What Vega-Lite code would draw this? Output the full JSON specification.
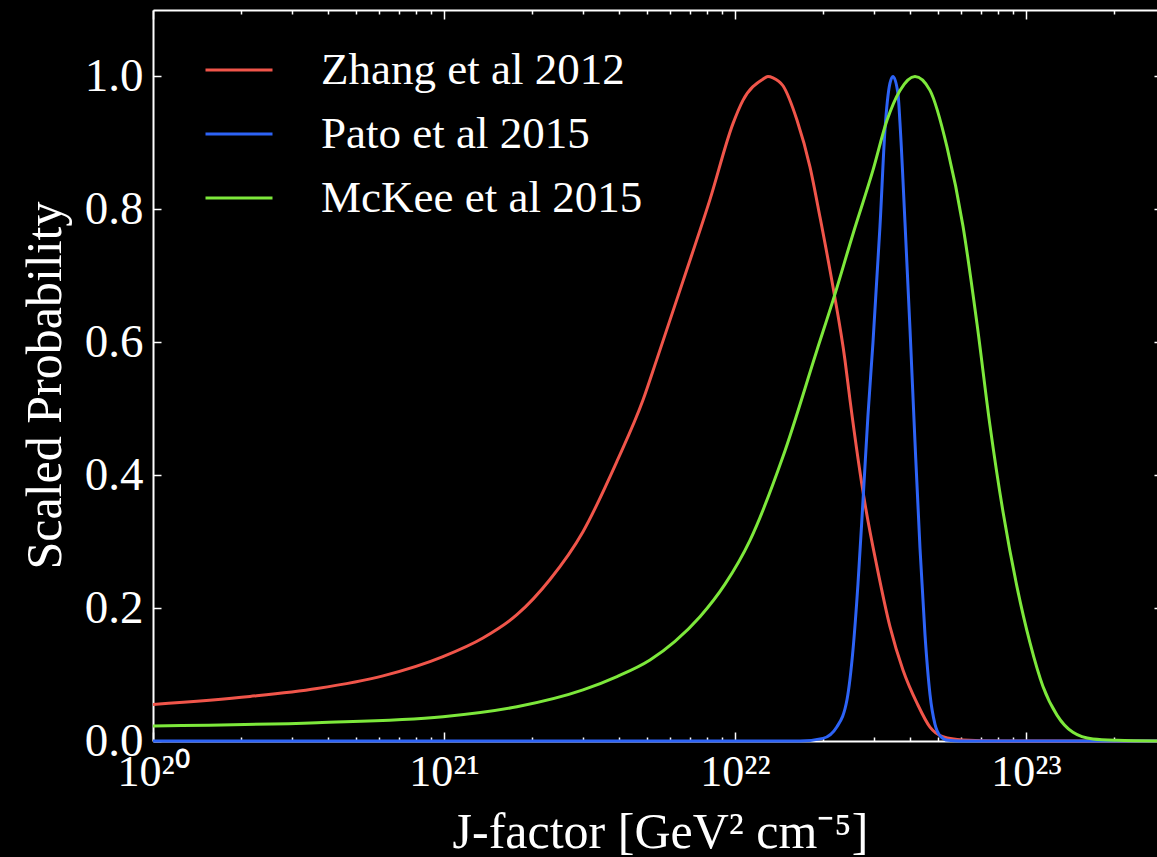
{
  "$schema": "https://vega.github.io/schema/vega-lite/v6.json",
  "width": 1004,
  "height": 731,
  "autosize": {"type": "none"},
  "padding": {"left": 153, "top": 10, "right": 0, "bottom": 116},
  "background": "black",
  "config": {
    "view": {"stroke": null},
    "font": "Liberation Serif",
    "axis": {
      "grid": false,
      "domainColor": "white",
      "domainWidth": 2,
      "tickColor": "white",
      "tickWidth": 1.5,
      "labelColor": "white",
      "titleColor": "white",
      "labelFont": "Liberation Serif",
      "titleFont": "Liberation Serif",
      "titleFontWeight": "normal",
      "labelOverlap": false,
      "labelFlush": false,
      "labelBound": false
    }
  },
  "data": {
    "values": [
      {"s": "Zhang et al 2012", "J": 1.000e20, "p": 0.055},
      {"s": "Zhang et al 2012", "J": 2.154e20, "p": 0.067},
      {"s": "Zhang et al 2012", "J": 3.661e20, "p": 0.079},
      {"s": "Zhang et al 2012", "J": 6.171e20, "p": 0.098},
      {"s": "Zhang et al 2012", "J": 9.922e20, "p": 0.127},
      {"s": "Zhang et al 2012", "J": 1.361e21, "p": 0.155},
      {"s": "Zhang et al 2012", "J": 1.781e21, "p": 0.190},
      {"s": "Zhang et al 2012", "J": 2.313e21, "p": 0.243},
      {"s": "Zhang et al 2012", "J": 3.004e21, "p": 0.315},
      {"s": "Zhang et al 2012", "J": 3.931e21, "p": 0.421},
      {"s": "Zhang et al 2012", "J": 4.829e21, "p": 0.513},
      {"s": "Zhang et al 2012", "J": 5.395e21, "p": 0.575},
      {"s": "Zhang et al 2012", "J": 6.627e21, "p": 0.692},
      {"s": "Zhang et al 2012", "J": 8.207e21, "p": 0.815},
      {"s": "Zhang et al 2012", "J": 9.842e21, "p": 0.929},
      {"s": "Zhang et al 2012", "J": 1.065e22, "p": 0.964},
      {"s": "Zhang et al 2012", "J": 1.248e22, "p": 0.996},
      {"s": "Zhang et al 2012", "J": 1.298e22, "p": 1.0},
      {"s": "Zhang et al 2012", "J": 1.351e22, "p": 0.998},
      {"s": "Zhang et al 2012", "J": 1.462e22, "p": 0.986},
      {"s": "Zhang et al 2012", "J": 1.634e22, "p": 0.934},
      {"s": "Zhang et al 2012", "J": 1.810e22, "p": 0.864},
      {"s": "Zhang et al 2012", "J": 1.960e22, "p": 0.788},
      {"s": "Zhang et al 2012", "J": 2.172e22, "p": 0.683},
      {"s": "Zhang et al 2012", "J": 2.388e22, "p": 0.573},
      {"s": "Zhang et al 2012", "J": 2.485e22, "p": 0.513},
      {"s": "Zhang et al 2012", "J": 2.797e22, "p": 0.357},
      {"s": "Zhang et al 2012", "J": 3.076e22, "p": 0.262},
      {"s": "Zhang et al 2012", "J": 3.409e22, "p": 0.172},
      {"s": "Zhang et al 2012", "J": 3.778e22, "p": 0.107},
      {"s": "Zhang et al 2012", "J": 4.222e22, "p": 0.057},
      {"s": "Zhang et al 2012", "J": 4.679e22, "p": 0.021},
      {"s": "Zhang et al 2012", "J": 5.184e22, "p": 0.0065},
      {"s": "Zhang et al 2012", "J": 6.074e22, "p": 0.0015},
      {"s": "Zhang et al 2012", "J": 8.143e22, "p": 0},
      {"s": "Zhang et al 2012", "J": 2.82e23, "p": 0},

      {"s": "Pato et al 2015", "J": 1.000e20, "p": 0},
      {"s": "Pato et al 2015", "J": 1.673e22, "p": 0},
      {"s": "Pato et al 2015", "J": 2.006e22, "p": 0.004},
      {"s": "Pato et al 2015", "J": 2.241e22, "p": 0.0215},
      {"s": "Pato et al 2015", "J": 2.426e22, "p": 0.062},
      {"s": "Pato et al 2015", "J": 2.544e22, "p": 0.137},
      {"s": "Pato et al 2015", "J": 2.647e22, "p": 0.237},
      {"s": "Pato et al 2015", "J": 2.754e22, "p": 0.362},
      {"s": "Pato et al 2015", "J": 2.864e22, "p": 0.49},
      {"s": "Pato et al 2015", "J": 2.980e22, "p": 0.60},
      {"s": "Pato et al 2015", "J": 3.076e22, "p": 0.70},
      {"s": "Pato et al 2015", "J": 3.150e22, "p": 0.775},
      {"s": "Pato et al 2015", "J": 3.277e22, "p": 0.92},
      {"s": "Pato et al 2015", "J": 3.409e22, "p": 0.99},
      {"s": "Pato et al 2015", "J": 3.491e22, "p": 1.0},
      {"s": "Pato et al 2015", "J": 3.632e22, "p": 0.974},
      {"s": "Pato et al 2015", "J": 3.690e22, "p": 0.93},
      {"s": "Pato et al 2015", "J": 3.839e22, "p": 0.78},
      {"s": "Pato et al 2015", "J": 3.994e22, "p": 0.62},
      {"s": "Pato et al 2015", "J": 4.155e22, "p": 0.45},
      {"s": "Pato et al 2015", "J": 4.323e22, "p": 0.29},
      {"s": "Pato et al 2015", "J": 4.497e22, "p": 0.16},
      {"s": "Pato et al 2015", "J": 4.679e22, "p": 0.07},
      {"s": "Pato et al 2015", "J": 4.868e22, "p": 0.025},
      {"s": "Pato et al 2015", "J": 5.064e22, "p": 0.008},
      {"s": "Pato et al 2015", "J": 5.395e22, "p": 0.001},
      {"s": "Pato et al 2015", "J": 5.932e22, "p": 0},
      {"s": "Pato et al 2015", "J": 2.82e23, "p": 0},

      {"s": "McKee et al 2015", "J": 1.000e20, "p": 0.0226},
      {"s": "McKee et al 2015", "J": 3.661e20, "p": 0.0276},
      {"s": "McKee et al 2015", "J": 9.922e20, "p": 0.0366},
      {"s": "McKee et al 2015", "J": 1.781e21, "p": 0.0516},
      {"s": "McKee et al 2015", "J": 3.004e21, "p": 0.077},
      {"s": "McKee et al 2015", "J": 3.931e21, "p": 0.097},
      {"s": "McKee et al 2015", "J": 5.105e21, "p": 0.122},
      {"s": "McKee et al 2015", "J": 6.220e21, "p": 0.150},
      {"s": "McKee et al 2015", "J": 7.580e21, "p": 0.187},
      {"s": "McKee et al 2015", "J": 9.240e21, "p": 0.236},
      {"s": "McKee et al 2015", "J": 1.126e22, "p": 0.302},
      {"s": "McKee et al 2015", "J": 1.462e22, "p": 0.428},
      {"s": "McKee et al 2015", "J": 1.913e22, "p": 0.588},
      {"s": "McKee et al 2015", "J": 2.172e22, "p": 0.663},
      {"s": "McKee et al 2015", "J": 2.544e22, "p": 0.763},
      {"s": "McKee et al 2015", "J": 2.980e22, "p": 0.859},
      {"s": "McKee et al 2015", "J": 3.330e22, "p": 0.934},
      {"s": "McKee et al 2015", "J": 3.690e22, "p": 0.979},
      {"s": "McKee et al 2015", "J": 4.155e22, "p": 1.0},
      {"s": "McKee et al 2015", "J": 4.679e22, "p": 0.979},
      {"s": "McKee et al 2015", "J": 5.352e22, "p": 0.894},
      {"s": "McKee et al 2015", "J": 6.074e22, "p": 0.775},
      {"s": "McKee et al 2015", "J": 6.786e22, "p": 0.628},
      {"s": "McKee et al 2015", "J": 7.520e22, "p": 0.475},
      {"s": "McKee et al 2015", "J": 8.337e22, "p": 0.345},
      {"s": "McKee et al 2015", "J": 9.314e22, "p": 0.232},
      {"s": "McKee et al 2015", "J": 1.032e23, "p": 0.148},
      {"s": "McKee et al 2015", "J": 1.144e23, "p": 0.082},
      {"s": "McKee et al 2015", "J": 1.278e23, "p": 0.039},
      {"s": "McKee et al 2015", "J": 1.450e23, "p": 0.013},
      {"s": "McKee et al 2015", "J": 1.699e23, "p": 0.003},
      {"s": "McKee et al 2015", "J": 2.054e23, "p": 0.001},
      {"s": "McKee et al 2015", "J": 2.82e23, "p": 0}
    ]
  },
  "layer": [
    {
      "mark": {"type": "line", "strokeWidth": 3, "interpolate": "monotone"},
      "encoding": {
        "x": {
          "field": "J",
          "type": "quantitative",
          "scale": {"type": "log", "domain": [1e20, 2.82e23], "nice": false},
          "axis": {
            "orient": "bottom",
            "values": [1e20, 2e20, 3e20, 4e20, 5e20, 6e20, 7e20, 8e20, 9e20, 1e21, 2e21, 3e21, 4e21, 5e21, 6e21, 7e21, 8e21, 9e21, 1e22, 2e22, 3e22, 4e22, 5e22, 6e22, 7e22, 8e22, 9e22, 1e23, 2e23],
            "labelExpr": "abs(datum.value/1e20-1)<1e-6 ? '10²⁰' : abs(datum.value/1e21-1)<1e-6 ? '10²¹' : abs(datum.value/1e22-1)<1e-6 ? '10²²' : abs(datum.value/1e23-1)<1e-6 ? '10²³' : ''",
            "tickSize": {"condition": {"test": "abs(log(datum.value)/LN10 - round(log(datum.value)/LN10)) < 0.001", "value": -9}, "value": -4},
            "labelFontSize": 44,
            "labelPadding": 18,
            "title": "J-factor [GeV² cm⁻⁵]",
            "titleFontSize": 50,
            "titleX": 507,
            "titleY": 106,
            "titleAlign": "center",
            "titleBaseline": "alphabetic"
          }
        },
        "y": {
          "field": "p",
          "type": "quantitative",
          "scale": {"domain": [0, 1.1], "nice": false},
          "axis": {
            "orient": "left",
            "values": [0, 0.2, 0.4, 0.6, 0.8, 1.0],
            "format": ".1f",
            "tickSize": -8,
            "labelFontSize": 47,
            "labelPadding": 18,
            "title": "Scaled Probability",
            "titleFontSize": 50,
            "titleAngle": -90,
            "titleX": -93,
            "titleY": 375,
            "titleAlign": "center",
            "titleBaseline": "alphabetic"
          }
        },
        "color": {
          "field": "s",
          "type": "nominal",
          "scale": {
            "domain": ["Zhang et al 2012", "Pato et al 2015", "McKee et al 2015"],
            "range": ["#F0554A", "#2D63F6", "#7DE83B"]
          },
          "legend": {
            "orient": "none",
            "legendX": 51,
            "legendY": 25,
            "title": null,
            "padding": 0,
            "symbolType": "stroke",
            "symbolSize": 4489,
            "symbolStrokeWidth": 3,
            "labelFont": "Liberation Serif",
            "labelFontSize": 45,
            "labelColor": "white",
            "labelOffset": 47,
            "labelLimit": 800,
            "rowPadding": 6
          }
        }
      }
    },
    {
      "mark": {"type": "line", "strokeOpacity": 0},
      "encoding": {
        "x": {
          "field": "J",
          "type": "quantitative",
          "axis": {
            "orient": "top",
            "values": [1e20, 2e20, 3e20, 4e20, 5e20, 6e20, 7e20, 8e20, 9e20, 1e21, 2e21, 3e21, 4e21, 5e21, 6e21, 7e21, 8e21, 9e21, 1e22, 2e22, 3e22, 4e22, 5e22, 6e22, 7e22, 8e22, 9e22, 1e23, 2e23],
            "labels": false,
            "tickSize": {"condition": {"test": "abs(log(datum.value)/LN10 - round(log(datum.value)/LN10)) < 0.001", "value": -9}, "value": -4},
            "title": null
          }
        },
        "y": {
          "field": "p",
          "type": "quantitative",
          "axis": {
            "orient": "right",
            "values": [0.2, 0.4, 0.6, 0.8, 1.0],
            "labels": false,
            "domain": false,
            "tickSize": -3,
            "title": null
          }
        },
        "detail": {"field": "s"}
      }
    }
  ],
  "resolve": {"axis": {"x": "independent", "y": "independent"}}
}
